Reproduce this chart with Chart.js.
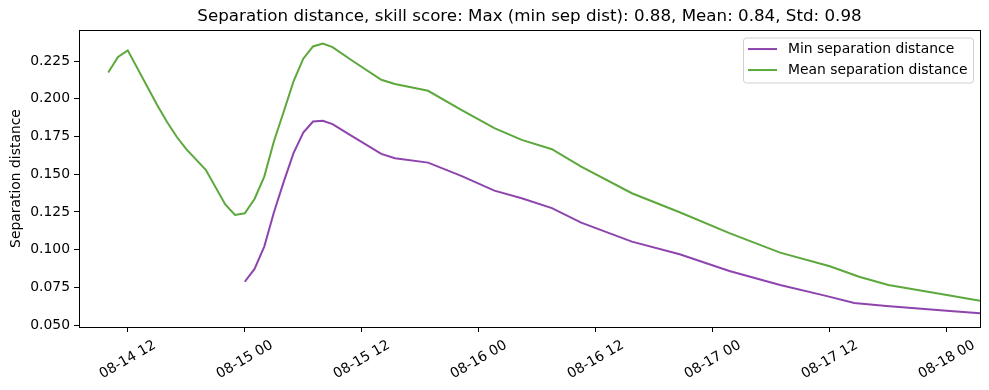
<!DOCTYPE html>
<html>
<head>
<meta charset="utf-8">
<title>Separation distance</title>
<script src="https://cdn.jsdelivr.net/npm/chart.js@4.4.1/dist/chart.umd.min.js"></script>
<style>
  html, body { margin: 0; padding: 0; background: #fff; }
  #chart { display: block; }
</style>
</head>
<body>
<canvas id="chart" width="989" height="390"></canvas>
<script>
// Data (x = hours since 08-15 00:00)
const meanHours = [-14, -13, -12, -9, -8, -7, -6, -4, -2, -1, 0, 1, 2, 3, 4, 5, 6, 7, 8, 9, 11, 14,
  15.4, 18.8, 22.2, 25.6, 28.4, 31.5, 34.5, 39.7, 44.6, 49.7, 54.9, 60, 63, 66, 72, 75.4];
const meanValues = [0.2175, 0.2277, 0.2321, 0.196, 0.185, 0.175, 0.1666, 0.1529, 0.13, 0.123, 0.1241,
  0.1336, 0.1484, 0.172, 0.1916, 0.2115, 0.2266, 0.2347, 0.2367, 0.2343, 0.2254, 0.2126,
  0.2098, 0.2053, 0.1927, 0.1805, 0.1728, 0.1666, 0.1551, 0.1374, 0.1248, 0.1109, 0.098, 0.089,
  0.082, 0.0765, 0.0699, 0.0661];

const minHours = [0, 1, 2, 3, 4, 5, 6, 7, 8, 9, 11, 14, 15.4, 18.8, 22.2, 25.6, 28.4, 31.5, 34.5,
  39.7, 44.6, 49.7, 54.9, 59.5, 62.5, 65.8, 72, 75.4];
const minValues = [0.0787, 0.0872, 0.102, 0.125, 0.1451, 0.164, 0.1776, 0.1849, 0.1854, 0.1832,
  0.1752, 0.1635, 0.1606, 0.1577, 0.1489, 0.1391, 0.1341, 0.1275, 0.1179, 0.1053, 0.0969,
  0.0858, 0.0765, 0.0695, 0.0646, 0.0626, 0.0595, 0.0578];

const xTickHours = [-12, 0, 12, 24, 36, 48, 60, 72];
const yTickValues = [0.05, 0.075, 0.1, 0.125, 0.15, 0.175, 0.2, 0.225];

const TITLE_TEXT = "Separation distance, skill score: Max (min sep dist): 0.88, Mean: 0.84, Std: 0.98";
const MIN_COLOR = "#8e44ad";
const MEAN_COLOR = "#5ca83c";
const FONT = "DejaVu Sans";

// Format hours as "MM-DD HH"
function formatHour(h) {
  const day = 15 + Math.floor(h / 24);
  const hour = ((h % 24) + 24) % 24;
  return `08-${String(day).padStart(2, "0")} ${String(hour).padStart(2, "0")}`;
}

function toPoints(xs, ys) {
  return xs.map((x, i) => ({ x: x, y: ys[i] }));
}

// Frame around the axes (top and right sides)
const framePlugin = {
  id: "frame",
  afterDatasetsDraw(chart) {
    const { ctx, chartArea } = chart;
    ctx.save();
    ctx.strokeStyle = "#000";
    ctx.lineWidth = 1;
    ctx.strokeRect(
      Math.round(chartArea.left) + 0.5,
      Math.round(chartArea.top) + 0.5,
      Math.round(chartArea.right - chartArea.left),
      Math.round(chartArea.bottom - chartArea.top)
    );
    ctx.restore();
  },
};

// Legend drawn inside the plot, upper right
const insideLegendPlugin = {
  id: "insideLegend",
  afterDraw(chart) {
    const { ctx, chartArea } = chart;
    const boxW = 230;
    const boxH = 45;
    const x = chartArea.right - 7 - boxW;
    const y = chartArea.top + 7.5;

    ctx.save();
    ctx.beginPath();
    ctx.roundRect(x + 0.5, y + 0.5, boxW, boxH, 3);
    ctx.fillStyle = "rgba(255,255,255,0.8)";
    ctx.fill();
    ctx.strokeStyle = "#d0d0d0";
    ctx.lineWidth = 1;
    ctx.stroke();

    ctx.font = `13.9px "${FONT}"`;
    ctx.textBaseline = "middle";
    ctx.fillStyle = "#000";
    chart.data.datasets.forEach((ds, i) => {
      const ly = y + 11.5 + i * 21;
      ctx.beginPath();
      ctx.moveTo(x + 5, ly);
      ctx.lineTo(x + 34, ly);
      ctx.strokeStyle = ds.borderColor;
      ctx.lineWidth = 2;
      ctx.stroke();
      ctx.fillText(ds.label, x + 45, ly);
    });
    ctx.restore();
  },
};

// Build chart
const chartEl = document.getElementById("chart");

const sepChart = new Chart(chartEl, {
  type: "line",
  data: {
    datasets: [
      {
        label: "Min separation distance",
        data: toPoints(minHours, minValues),
        borderColor: MIN_COLOR,
        borderWidth: 2,
        pointRadius: 0,
        tension: 0,
        fill: false,
      },
      {
        label: "Mean separation distance",
        data: toPoints(meanHours, meanValues),
        borderColor: MEAN_COLOR,
        borderWidth: 2,
        pointRadius: 0,
        tension: 0,
        fill: false,
      },
    ],
  },
  options: {
    responsive: false,
    animation: false,
    devicePixelRatio: 1,
    layout: { padding: { left: 0, right: 9, top: 0, bottom: 0 } },
    plugins: {
      legend: { display: false },
      tooltip: { enabled: false },
      title: {
        display: true,
        fullSize: false,
        text: TITLE_TEXT,
        color: "#000",
        font: { family: FONT, size: 16.7, weight: "normal" },
        padding: { top: 7, bottom: 3 },
      },
    },
    scales: {
      x: {
        type: "linear",
        min: -17,
        max: 75.4,
        afterFit(axis) {
          axis.height = 63;
        },
        afterBuildTicks(axis) {
          axis.ticks = xTickHours.map((v) => ({ value: v }));
        },
        grid: {
          display: true,
          drawOnChartArea: false,
          drawTicks: true,
          tickLength: 5,
          tickColor: "#000",
        },
        border: { display: true, color: "#000", width: 1 },
        ticks: {
          autoSkip: false,
          minRotation: 30,
          maxRotation: 30,
          labelOffset: 27,
          padding: 5,
          color: "#000",
          font: { family: FONT, size: 13.9 },
          callback: (value) => formatHour(value),
        },
      },
      y: {
        type: "linear",
        min: 0.0487,
        max: 0.2456,
        afterFit(axis) {
          axis.width = 79;
        },
        afterBuildTicks(axis) {
          axis.ticks = yTickValues.map((v) => ({ value: v }));
        },
        grid: {
          display: true,
          drawOnChartArea: false,
          drawTicks: true,
          tickLength: 5,
          tickColor: "#000",
        },
        border: { display: true, color: "#000", width: 1 },
        ticks: {
          padding: 4,
          color: "#000",
          font: { family: FONT, size: 13.9 },
          callback: (value) => value.toFixed(3),
        },
        title: {
          display: true,
          text: "Separation distance",
          color: "#000",
          font: { family: FONT, size: 13.9 },
          padding: { top: 8, bottom: 4 },
        },
      },
    },
  },
  plugins: [framePlugin, insideLegendPlugin],
});
</script>
</body>
</html>
